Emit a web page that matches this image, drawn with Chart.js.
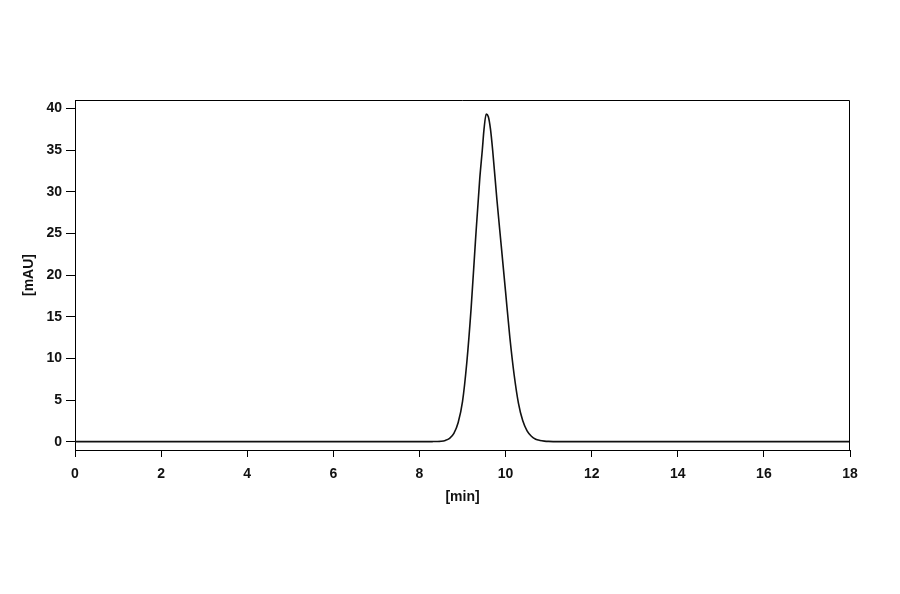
<!DOCTYPE html>
<html>
<head>
<meta charset="utf-8">
<script src="https://cdn.jsdelivr.net/npm/chart.js@4"></script>
<style>
  html, body { margin: 0; padding: 0; background: #fff; }
  #wrap { width: 900px; height: 594px; }
</style>
</head>
<body>
<div id="wrap"><canvas id="chromChart"></canvas></div>
<script>
(function () {
  "use strict";

  // retention time [min] and detector signal [mAU]
  const timeMin = [0, 2, 4, 6, 8, 8.3, 8.4, 8.5, 8.6, 8.7, 8.8, 8.9, 9.0, 9.1, 9.2, 9.3, 9.4, 9.46, 9.5,
    9.55, 9.6, 9.65, 9.7, 9.8, 9.9, 10.0, 10.1, 10.2, 10.3, 10.4, 10.5, 10.6, 10.7, 10.8, 10.9, 11.0,
    11.2, 12, 14, 16, 18];
  const signalMAU = [0, 0, 0, 0, 0, 0.01, 0.02, 0.05, 0.15, 0.4, 1.0, 2.3, 4.8, 9.5, 16, 24, 31.5, 35, 37.5,
    39.3, 39.0, 37.5, 35, 29, 23.5, 18, 12.5, 8, 4.6, 2.5, 1.3, 0.65, 0.3, 0.15, 0.07, 0.03,
    0, 0, 0, 0, 0];

  const xTicks = [0, 2, 4, 6, 8, 10, 12, 14, 16, 18];
  const yTicks = [0, 5, 10, 15, 20, 25, 30, 35, 40];

  const tickFont = { family: "'Liberation Sans', Arial, sans-serif", size: 14, weight: "bold" };

  // top and right sides of the frame
  const frame = {
    id: "frame",
    afterDraw(chart) {
      const a = chart.chartArea;
      const ctx = chart.ctx;
      ctx.save();
      ctx.strokeStyle = "#000";
      ctx.lineWidth = 1;
      ctx.beginPath();
      ctx.moveTo(a.left, a.top + 0.5);
      ctx.lineTo(a.right - 0.5, a.top + 0.5);
      ctx.lineTo(a.right - 0.5, a.bottom);
      ctx.stroke();
      ctx.restore();
    }
  };

  new Chart(document.getElementById("chromChart"), {
    type: "line",
    data: {
      datasets: [{
        data: timeMin.map((t, i) => ({ x: t, y: signalMAU[i] })),
        borderColor: "#111",
        borderWidth: 1.6,
        pointRadius: 0,
        fill: false,
        cubicInterpolationMode: "monotone"
      }]
    },
    options: {
      responsive: true,
      maintainAspectRatio: false,
      animation: false,
      layout: { padding: { left: 17, top: 100, right: 50, bottom: 84 } },
      plugins: { legend: { display: false }, tooltip: { enabled: false } },
      scales: {
        x: {
          type: "linear",
          min: 0,
          max: 18,
          afterBuildTicks: (axis) => { axis.ticks = xTicks.map(v => ({ value: v })); },
          afterFit: (s) => { s.height = 60; },
          grid: { drawOnChartArea: false, drawTicks: true, tickLength: 7, color: "#000" },
          border: { display: true, color: "#000", width: 1 },
          ticks: { color: "#111", font: tickFont, padding: 9, maxRotation: 0 },
          title: { display: true, text: "[min]", color: "#111", font: tickFont, padding: 4 }
        },
        y: {
          min: -1,
          max: 41,
          afterBuildTicks: (axis) => { axis.ticks = yTicks.map(v => ({ value: v })); },
          afterFit: (s) => { s.width = 58; },
          grid: { drawOnChartArea: false, drawTicks: true, tickLength: 9, color: "#000" },
          border: { display: true, color: "#000", width: 1 },
          ticks: { color: "#111", font: tickFont, padding: 4 },
          title: { display: true, text: "[mAU]", color: "#111", font: tickFont, padding: 4 }
        }
      }
    },
    plugins: [frame]
  });
})();
</script>
</body>
</html>
